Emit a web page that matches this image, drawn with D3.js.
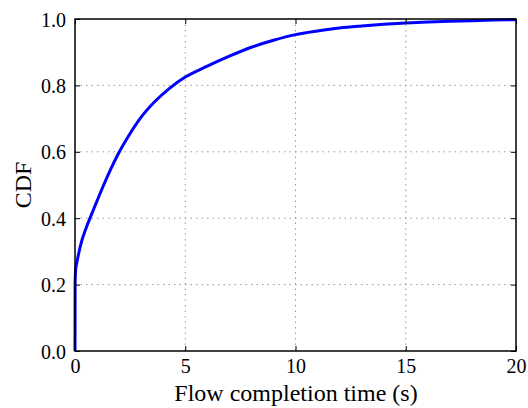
<!DOCTYPE html>
<html>
<head>
<meta charset="utf-8">
<script src="https://cdn.jsdelivr.net/npm/d3@7"></script>
<style>
  html, body { margin: 0; padding: 0; background: #fff; }
</style>
</head>
<body>
<svg id="chart" width="528" height="408"></svg>
<script>
// Data
const flowTime = [0, 0.005, 0.03, 0.1, 0.3, 0.5, 0.71, 1.0, 1.3, 1.6, 1.97, 2.45, 2.95, 3.6, 4.3, 5, 6, 7, 8, 9, 10, 11, 12, 13, 14, 15, 16, 17, 18, 19, 20];
const cdfValue = [0, 0.2, 0.245, 0.272, 0.33, 0.37, 0.405, 0.452, 0.5, 0.545, 0.595, 0.65, 0.7, 0.75, 0.792, 0.825, 0.858, 0.888, 0.915, 0.936, 0.953, 0.964, 0.973, 0.979, 0.984, 0.988, 0.991, 0.993, 0.995, 0.997, 0.998];
const xTicks = [0, 5, 10, 15, 20];
const yTicks = [0.0, 0.2, 0.4, 0.6, 0.8, 1.0];
const xLabel = "Flow completion time (s)";
const yLabel = "CDF";

const FONT = "'Liberation Serif', 'Times New Roman', Times, serif";
const svg = d3.select("#chart");
const pLeft = 75, pRight = 516, pTop = 19, pBottom = 351;

const x = d3.scaleLinear().domain([0, 20]).range([pLeft, pRight]);
const y = d3.scaleLinear().domain([0, 1]).range([pBottom, pTop]);

// grid
const grid = svg.append("g");
grid.selectAll("line.gx").data(xTicks.slice(1, -1)).join("line")
  .attr("x1", d => x(d)).attr("x2", d => x(d)).attr("y1", pTop).attr("y2", pBottom)
  .attr("stroke", "#999").attr("stroke-width", 1).attr("stroke-dasharray", "1.5,4");
grid.selectAll("line.gy").data(yTicks.slice(1, -1)).join("line")
  .attr("y1", d => y(d)).attr("y2", d => y(d)).attr("x1", pLeft).attr("x2", pRight)
  .attr("stroke", "#999").attr("stroke-width", 1).attr("stroke-dasharray", "1.5,4");

// curve
const pts = flowTime.map((t, i) => [t, cdfValue[i]]);
const line = d3.line().x(d => x(d[0])).y(d => y(d[1])).curve(d3.curveMonotoneX);
svg.append("path").datum(pts).attr("d", line)
  .attr("fill", "none").attr("stroke", "#0000ff").attr("stroke-width", 3).attr("stroke-linejoin", "round");

// axes (ticks inward, all four sides)
const fmtY = d3.format(".1f");
const axB = svg.append("g").attr("transform", `translate(0,${pBottom})`)
  .call(d3.axisBottom(x).tickValues(xTicks).tickSizeInner(-5).tickSizeOuter(0).tickPadding(8));
const axT = svg.append("g").attr("transform", `translate(0,${pTop})`)
  .call(d3.axisTop(x).tickValues(xTicks).tickSizeInner(-5).tickSizeOuter(0).tickFormat(""));
const axL = svg.append("g").attr("transform", `translate(${pLeft},0)`)
  .call(d3.axisLeft(y).tickValues(yTicks).tickSizeInner(-5).tickSizeOuter(0).tickPadding(9).tickFormat(fmtY));
const axR = svg.append("g").attr("transform", `translate(${pRight},0)`)
  .call(d3.axisRight(y).tickValues(yTicks).tickSizeInner(-5).tickSizeOuter(0).tickFormat(""));

[axB, axT, axL, axR].forEach(a => {
  a.attr("font-family", null).attr("font-size", null);
  a.select(".domain").remove();
  a.selectAll(".tick line").attr("stroke", "#000").attr("stroke-width", 1);
  a.selectAll(".tick text").style("font-family", FONT).style("font-size", "20px").attr("fill", "#000");
});
axB.selectAll(".tick text").attr("dy", "0.71em");
axL.selectAll(".tick text").attr("dy", "0.35em");

// frame
svg.append("rect").attr("x", pLeft).attr("y", pTop).attr("width", pRight - pLeft).attr("height", pBottom - pTop)
  .attr("fill", "none").attr("stroke", "#000").attr("stroke-width", 1.5);

// labels
svg.append("text").attr("x", 296).attr("y", 401)
  .attr("text-anchor", "middle").style("font-family", FONT).style("font-size", "24px").attr("fill", "#000").text(xLabel);
svg.append("text").attr("transform", `translate(31,185) rotate(-90)`)
  .attr("text-anchor", "middle").style("font-family", FONT).style("font-size", "24px").attr("fill", "#000").text(yLabel);
</script>
</body>
</html>
